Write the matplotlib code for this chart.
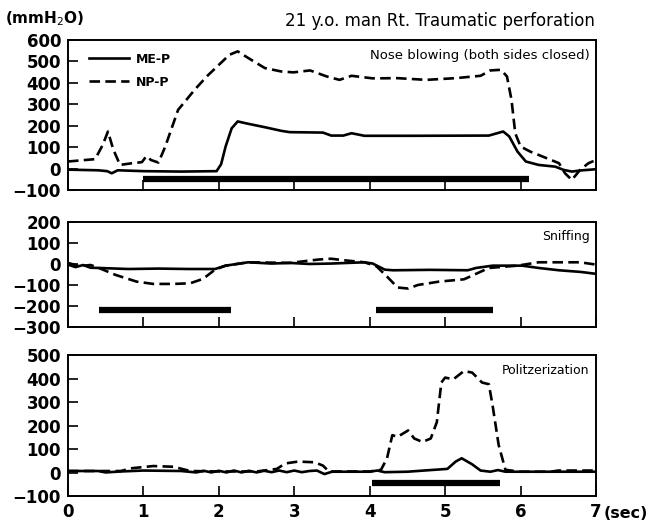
import matplotlib
matplotlib.use('Agg')
import matplotlib.pyplot as plt

plt.rcParams['font.family'] = ['DejaVu Sans']

# Nose blowing (both sides closed)
t_nose_np = [0.00, 0.36, 0.46, 0.53, 0.60, 0.69, 0.85, 0.98, 1.04, 1.10, 1.20, 1.29,
             1.46, 1.68, 1.84, 2.00, 2.14, 2.25, 2.39, 2.61, 2.83, 2.99, 3.21, 3.43,
             3.60, 3.76, 4.04, 4.37, 4.75, 5.14, 5.47, 5.60, 5.74, 5.82, 5.88, 5.93,
             6.00, 6.13, 6.35, 6.51, 6.59, 6.68, 6.79, 6.90, 7.00]
nose_np = [33, 44, 110, 173, 90, 17, 25, 30, 58, 40, 28, 103,
           274, 368, 430, 484, 531, 547, 516, 469, 453, 449, 458, 430,
           414, 433, 421, 422, 414, 422, 433, 458, 461, 430, 321, 165,
           103, 79, 48, 25, -22, -53, -6, 25, 40]
t_nose_me = [0.00, 0.40, 0.52, 0.58, 0.66, 1.00, 1.50, 1.97, 2.03, 2.09, 2.17, 2.25,
             2.39, 2.61, 2.83, 2.94, 3.38, 3.49, 3.65, 3.76, 3.93, 4.59, 5.58, 5.69,
             5.77, 5.85, 5.96, 6.07, 6.24, 6.46, 6.57, 6.68, 6.79, 7.00]
nose_me = [-5, -8, -12, -22, -8, -12, -14, -12, 20, 103, 188, 220,
           209, 193, 176, 170, 168, 154, 154, 165, 153, 153, 154, 165,
           173, 150, 79, 33, 17, 9, -6, -14, -9, -3]
nose_bar = [1.0, 6.11, -47]

# Sniffing
t_sniff_me = [0.00, 0.10, 0.20, 0.30, 0.41, 0.80, 1.20, 1.60, 1.95, 2.09, 2.39, 2.70,
              2.94, 3.20, 3.49, 3.93, 4.04, 4.20, 4.31, 4.80, 5.30, 5.41, 5.63, 6.02,
              6.24, 6.51, 6.80, 7.00]
sniff_me = [-3, -15, -5, -18, -19, -24, -22, -24, -24, -8, 8, 2,
            5, 0, 2, 8, 2, -27, -30, -28, -30, -19, -8, -8,
            -19, -30, -38, -47]
t_sniff_np = [0.00, 0.15, 0.30, 0.41, 0.63, 0.91, 1.13, 1.40, 1.62, 1.79, 1.95, 2.09,
              2.39, 2.94, 3.32, 3.49, 3.65, 3.93, 4.09, 4.23, 4.37, 4.51, 4.64, 4.92,
              5.25, 5.41, 5.58, 5.96, 6.24, 6.79, 7.00]
sniff_np = [5, -10, -5, -19, -52, -84, -95, -95, -92, -71, -27, -8,
            8, 5, 21, 25, 18, 8, -11, -60, -112, -117, -100, -84,
            -73, -47, -19, -8, 8, 8, -3]
sniff_bars = [[0.41, 2.16, -220], [4.08, 5.64, -220]]

# Politzerization
t_pol_me = [0.00, 0.40, 0.50, 0.70, 1.00, 1.50, 1.70, 1.80, 1.90, 2.00, 2.10, 2.20,
            2.30, 2.40, 2.50, 2.60, 2.70, 2.80, 2.90, 3.00, 3.10, 3.20, 3.30, 3.40,
            3.50, 4.00, 4.10, 4.20, 4.50, 5.03, 5.14, 5.22, 5.36, 5.47, 5.60, 5.70,
            5.80, 7.00]
pol_me = [8, 8, 2, 6, 10, 8, 2, 9, 2, 9, 2, 10,
          2, 9, 2, 9, 3, 10, 3, 10, 3, 8, 10, -5,
          5, 5, 10, 3, 5, 17, 48, 62, 36, 10, 5, 12,
          5, 5]
t_pol_np = [0.00, 0.70, 0.85, 1.13, 1.40, 1.62, 2.00, 2.50, 2.77, 2.88, 3.05, 3.27,
            3.38, 3.46, 4.00, 4.15, 4.23, 4.30, 4.37, 4.51, 4.59, 4.70, 4.81, 4.89,
            4.95, 5.00, 5.11, 5.25, 5.36, 5.49, 5.58, 5.63, 5.71, 5.80, 6.00, 6.40,
            6.50, 7.00]
pol_np = [8, 8, 20, 29, 26, 8, 6, 6, 17, 40, 48, 45,
          31, 6, 6, 13, 62, 160, 153, 180, 146, 131, 146, 215,
          383, 404, 397, 432, 425, 383, 376, 285, 118, 13, 5, 5,
          10, 10]
pol_bar = [4.03, 5.73, -42]

y_ticks_nose = [600, 500, 400, 300, 200, 100, 0, -100]
y_ticks_sniff = [200, 100, 0, -100, -200, -300]
y_ticks_pol = [500, 400, 300, 200, 100, 0, -100]
x_ticks = [0, 1, 2, 3, 4, 5, 6, 7]

fig = plt.figure(figsize=(6.48, 5.23), dpi=100)
ax1 = fig.add_axes([0.1049, 0.6367, 0.8148, 0.2868])
ax2 = fig.add_axes([0.1049, 0.3748, 0.8148, 0.2008])
ax3 = fig.add_axes([0.1049, 0.0507, 0.8148, 0.2706])

dash = (4, 2)
lw = 1.9

panels = [
    (ax1, t_nose_me, nose_me, t_nose_np, nose_np, [nose_bar], y_ticks_nose,
     'Nose blowing (both sides closed)', 0.90),
    (ax2, t_sniff_me, sniff_me, t_sniff_np, sniff_np, sniff_bars, y_ticks_sniff,
     'Sniffing', 0.86),
    (ax3, t_pol_me, pol_me, t_pol_np, pol_np, [pol_bar], y_ticks_pol,
     'Politzerization', 0.89),
]

for ax, tm, me, tn, npp, bars, yt, label, ly in panels:
    ax.plot(tm, me, color='black', lw=lw, label='ME-P')
    ax.plot(tn, npp, color='black', lw=lw, dashes=dash, label='NP-P')
    for b in bars:
        ax.plot([b[0], b[1]], [b[2], b[2]], color='black', lw=4.5,
                solid_capstyle='butt')
    ax.set_xlim(0, 7)
    ax.set_ylim(min(yt), max(yt))
    ax.set_yticks(yt)
    ax.set_yticklabels([str(v).replace('-', '\u2212') for v in yt],
                       fontsize=12, fontweight='bold')
    ax.set_xticks(x_ticks)
    ax.tick_params(axis='both', direction='in', length=7, width=1.2)
    ax.tick_params(axis='y', pad=5)
    for sp in ax.spines.values():
        sp.set_linewidth(1.4)
    ax.text(0.988, ly, label, transform=ax.transAxes, ha='right', va='center',
            fontsize=9.5 if ax is ax1 else 9)

for ax in (ax1, ax2):
    ax.set_xticklabels([])

ax3.set_xticklabels([str(v) for v in x_ticks], fontsize=12, fontweight='bold')
ax3.tick_params(axis='x', pad=5)
ax3.text(1.014, -0.12, '(sec)', transform=ax3.transAxes, ha='left', va='center',
         fontsize=11.5, fontweight='bold')

ax1.legend(loc='upper left', bbox_to_anchor=(0.03, 0.95), frameon=False,
           handlelength=3.2, handletextpad=0.6, labelspacing=0.8,
           borderaxespad=0, prop={'size': 9, 'weight': 'bold'})

fig.text(0.008, 0.965, '(mmH$_2$O)', ha='left', va='center', fontsize=11,
         fontweight='bold')
fig.text(0.918, 0.96, '21 y.o. man Rt. Traumatic perforation', ha='right',
         va='center', fontsize=12)

fig.savefig('out.png', dpi=100)
